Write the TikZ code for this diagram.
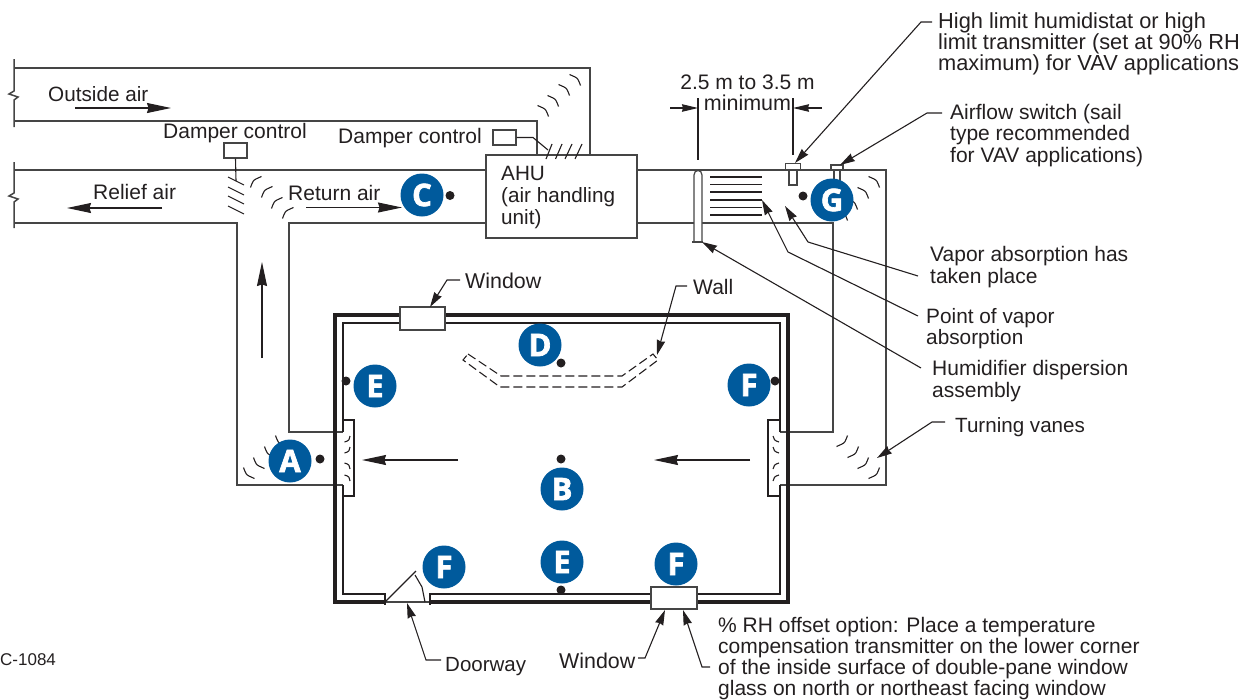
\documentclass[tikz,border=0pt]{standalone}
\usepackage{fontspec}
\setmainfont{Liberation Sans}
\newfontfamily\badgefont[BoldFeatures={FakeBold=2.2}]{Open Sans}
\usetikzlibrary{arrows.meta}
\definecolor{ink}{HTML}{231F20}
\definecolor{duct}{HTML}{454545}
\definecolor{badgeblue}{HTML}{005A9C}
\tikzset{
 ductline/.style={draw=duct,line width=1.5pt},
 fineline/.style={draw=ink,line width=1.1pt},
 wallthick/.style={draw=ink,line width=3.8pt},
 vaneline/.style={draw=ink,line width=1.1pt},
 boxshape/.style={draw=duct,line width=1.5pt,fill=white},
 flowarrow/.style={draw=ink,line width=1.1pt,-{Stealth[length=24pt,width=10pt,inset=1.5pt]}},
 leader/.style={draw=ink,line width=1.1pt,-{Stealth[length=15pt,width=8.5pt,inset=1pt]}},
 lbl/.style={text=ink,inner sep=0pt,anchor=base west,font=\fontsize{21}{22}\selectfont},
 lblm/.style={text=ink,inner sep=0pt,anchor=west,align=left,font=\fontsize{21}{21.3}\selectfont},
 badge/.style={circle,fill=badgeblue,text=white,minimum size=43pt,inner sep=0pt,font=\badgefont\bfseries\fontsize{31}{31}\selectfont},
 sensordot/.style={circle,fill=ink,minimum size=9pt,inner sep=0pt},
}
\newcommand{\vanemark}[4]{\draw[vaneline,shift={(#1,#2)},xscale=#3,yscale=#4] (-5.5,5.5) .. controls (-1,3.5) and (2,2.5) .. (3,0.5) .. controls (4,-1) and (4.5,-3) .. (5.5,-5.5);}
\begin{document}
\begin{tikzpicture}[x=1pt,y=-1pt]
\useasboundingbox (0,0) rectangle (1255,699);
% break lines
\draw[ductline] (14,59)--(14,91)--(9,94)--(18,97)--(14,100)--(14,127);
\draw[ductline] (14,162)--(14,193)--(9,196)--(18,199)--(14,202)--(14,228);
% ducts
\draw[ductline] (14,68)--(590,68)--(590,155);
\draw[ductline] (14,121)--(537,121)--(537,155);
\draw[ductline] (14,170)--(486,170);
\draw[ductline] (14,223)--(237,223)--(237,485)--(343,485);
\draw[ductline] (486,223)--(289,223)--(289,432)--(343,432);
\draw[ductline] (637,170)--(886,170)--(886,485)--(780,485);
\draw[ductline] (637,223)--(833,223)--(833,432)--(780,432);
% room
\draw[wallthick] (385,602)--(335,602)--(335,315)--(788,315)--(788,602)--(430,602);
\draw[fineline] (385,594)--(343,594)--(343,485);
\draw[fineline] (343,432)--(343,323)--(780,323)--(780,432);
\draw[fineline] (780,485)--(780,594)--(430,594);
% return and supply grilles
\draw[fineline] (343,432)--(343,420)--(354,420);
\draw[fineline] (343,485)--(343,496)--(354,496);
\draw[draw=ink,line width=2.6pt] (354,419)--(354,497);
\draw[fineline] (780,432)--(780,420)--(768,420);
\draw[fineline] (780,485)--(780,496)--(768,496);
\draw[draw=ink,line width=2.6pt] (768,419)--(768,497);
\foreach \yy in {439,450}{
 \draw[vaneline] (344.5,\yy+3) .. controls (349,\yy+2) and (350,\yy) .. (350,\yy-3);
 \draw[vaneline] (773,\yy-3) .. controls (773,\yy) and (775,\yy+2) .. (779,\yy+3);
}
\foreach \yy in {466,478}{
 \draw[vaneline] (344.5,\yy-3) .. controls (349,\yy-2) and (350,\yy) .. (350,\yy+3);
 \draw[vaneline] (773,\yy+3) .. controls (773,\yy) and (775,\yy-2) .. (779,\yy-3);
}
% door
\draw[ductline,line width=1.1pt] (385,602)--(430,602);
\draw[fineline] (385,593)--(385,605);
\draw[fineline] (430,593)--(430,605);
\draw[fineline] (385,602)--(416,571);
\draw[fineline] (415,575)--(422,587)--(425,602);
% windows
\node[boxshape,minimum width=45pt,minimum height=23pt,inner sep=0pt] (wintop) at (422.5,318.5) {};
\node[boxshape,minimum width=46pt,minimum height=22pt,inner sep=0pt] (winbot) at (674,598) {};
% dashed wall
\draw[fineline,dash pattern=on 9pt off 4pt] (468,354)--(501,376)--(622,376)--(653,354)--(658,360)--(622,387)--(500,387)--(463,360)--cycle;
% AHU
\node[boxshape,minimum width=151pt,minimum height=83pt,inner sep=0pt] (ahu) at (561.5,196.5) {};
\node[lblm,font=\fontsize{20.7}{21.8}\selectfont] (ahutext) at (501,197.5) {AHU\\(air handling\\unit)};
% dampers
\node[boxshape,line width=1.2pt,minimum width=23pt,minimum height=15pt,inner sep=0pt] (dampA) at (235.5,150.5) {};
\node[boxshape,line width=1.2pt,minimum width=23pt,minimum height=15pt,inner sep=0pt] (dampB) at (504.5,137.5) {};
\coordinate (stemA) at (236,181);
\draw[fineline] (dampA.south) -- (stemA);
\foreach \yy in {177,187,196,206}{\draw[fineline] (228,\yy)--(244,\yy+8);}
\coordinate (kinkB) at (533,137.5);
\coordinate (stemB) at (548,150);
\draw[fineline] (dampB.east) -- (kinkB) -- (stemB);
\draw[fineline] (546,159)--(552,144);
\draw[fineline] (555.5,159)--(562,144);
\draw[fineline] (565,159)--(572,144);
\draw[fineline] (575,159)--(582,144);
% turning vanes
\vanemark{543}{111}{1}{-1}\vanemark{553}{101}{1}{-1}\vanemark{564}{90}{1}{-1}\vanemark{575}{80}{1}{-1}
\vanemark{256}{182}{-1}{-1}\vanemark{267}{192}{-1}{-1}\vanemark{277}{203}{-1}{-1}\vanemark{288}{213}{-1}{-1}
\vanemark{249}{473}{-1}{1}\vanemark{259}{463}{-1}{1}\vanemark{270}{452}{-1}{1}\vanemark{281}{441}{-1}{1}
\vanemark{842}{441}{1}{1}\vanemark{853}{452}{1}{1}\vanemark{863}{463}{1}{1}\vanemark{874}{473}{1}{1}
\vanemark{874}{182}{1}{-1}\vanemark{863}{193}{1}{-1}\vanemark{852}{204}{1}{-1}\vanemark{842}{215}{1}{-1}
% humidifier
\draw[boxshape,line width=1.2pt] (694,241)--(694,175) .. controls (694,169) and (702,169) .. (702,175)--(702,241);
\draw[draw=duct,line width=2.2pt] (692,242)--(703,242);
\foreach \yy in {177,184.5,192,200,207.5,215}{\draw[fineline] (710,\yy)--(762,\yy);}
% sensors
\node[boxshape,line width=1.2pt,minimum width=8pt,minimum height=15pt,inner sep=0pt] (humbody) at (793,177.5) {};
\node[boxshape,line width=1.2pt,minimum width=15pt,minimum height=5.5pt,inner sep=0pt] (humcap) at (793,166.5) {};
\node[boxshape,line width=1.2pt,minimum width=6pt,minimum height=15pt,inner sep=0pt] (sailbody) at (837,177.5) {};
\node[boxshape,line width=1.2pt,minimum width=12pt,minimum height=5pt,inner sep=0pt] (sailcap) at (837,167.5) {};
% dimension
\draw[fineline] (698,98)--(698,160);
\draw[fineline] (793,98)--(793,155);
\coordinate (dimL) at (670,108);
\coordinate (dimLt) at (698,108);
\coordinate (dimR) at (822,108);
\coordinate (dimRt) at (793,108);
\draw[leader,-{Stealth[length=16pt,width=7.5pt,inset=1pt]}] (dimL)--(dimLt);
\draw[leader,-{Stealth[length=16pt,width=7.5pt,inset=1pt]}] (dimR)--(dimRt);
% flow arrows
\coordinate (f1a) at (75,108); \coordinate (f1b) at (171,108);
\coordinate (f2a) at (162,208); \coordinate (f2b) at (67,208);
\coordinate (f3a) at (306,207.5); \coordinate (f3b) at (402,207.5);
\coordinate (f4a) at (262,358); \coordinate (f4b) at (262,262);
\coordinate (f5a) at (458,460); \coordinate (f5b) at (362,460);
\coordinate (f6a) at (750,460); \coordinate (f6b) at (654,460);
\draw[flowarrow] (f1a)--(f1b);
\draw[flowarrow] (f2a)--(f2b);
\draw[flowarrow] (f3a)--(f3b);
\draw[flowarrow] (f4a)--(f4b);
\draw[flowarrow] (f5a)--(f5b);
\draw[flowarrow] (f6a)--(f6b);
% dots
\node[sensordot] (dotA) at (320,459) {};
\node[sensordot] (dotC) at (450,195.5) {};
\node[sensordot] (dotD) at (561,363) {};
\node[sensordot] (dotE1) at (346,381) {};
\node[sensordot] (dotF1) at (775,381) {};
\node[sensordot] (dotB) at (561,459) {};
\node[sensordot] (dotE2) at (561,590) {};
\node[sensordot] (dotG) at (803,196) {};
% badges
\node[badge] (bA) at (290,461) {A};
\node[badge] (bC) at (422,195) {C};
\node[badge] (bD) at (540,345) {D};
\node[badge] (bE1) at (375,386) {E};
\node[badge] (bF1) at (749,385) {F};
\node[badge] (bB) at (562,489) {B};
\node[badge] (bE2) at (562,562) {E};
\node[badge] (bF2) at (444,567) {F};
\node[badge] (bF3) at (676,564) {F};
\node[badge] (bG) at (832,200) {G};
% plain labels
\node[lbl,font=\fontsize{20.7}{22}\selectfont] (tOut) at (48,101) {Outside air};
\node[lbl] (tRel) at (93,199) {Relief air};
\node[lbl] (tRet) at (288,200) {Return air};
\node[lbl] (tDc1) at (163,138) {Damper control};
\node[lbl] (tDc2) at (338,143) {Damper control};
\node[lbl,font=\fontsize{21.4}{22}\selectfont] (tWin1) at (465,288) {Window};
\node[lbl] (tWall) at (693,294) {Wall};
\node[lbl,font=\fontsize{20.5}{22}\selectfont] (tDoor) at (445,671) {Doorway};
\node[lbl,font=\fontsize{21.4}{22}\selectfont] (tWin2) at (559,668) {Window};
\node[lbl,font=\fontsize{20.6}{22}\selectfont] (tTurn) at (955,432) {Turning vanes};
\node[lbl,anchor=base] (tDim1) at (747.5,89) {2.5 m to 3.5 m};
\node[lbl,anchor=base,font=\fontsize{21.5}{22}\selectfont] (tDim2) at (747.5,110) {minimum};
\node[lbl,font=\fontsize{17}{18}\selectfont] (tCode) at (0,665) {C-1084};
% multi-line labels
\node[lblm,font=\fontsize{21.8}{21}\selectfont] (tHigh) at (938,44) {High limit humidistat or high\\limit transmitter (set at 90\% RH\\maximum) for VAV applications};
\node[lblm] (tAir) at (950,135.5) {Airflow switch (sail\\type recommended\\for VAV applications)};
\node[lblm] (tVap) at (930,267) {Vapor absorption has\\taken place};
\node[lblm,font=\fontsize{20.8}{21.3}\selectfont] (tPoint) at (926,328.5) {Point of vapor\\absorption};
\node[lblm] (tHum) at (932,381) {Humidifier dispersion\\assembly};
\node[lblm,font=\fontsize{21}{21}\selectfont] (tRH) at (718,658.5) {\% RH offset option: Place a temperature\\compensation transmitter on the lower corner\\of the inside surface of double-pane window\\glass on north or northeast facing window};
% leaders
\coordinate (lHa) at (932,22); \coordinate (lHb) at (921,22); \coordinate (lHc) at (795,163);
\draw[leader] (lHa)--(lHb)--(lHc);
\coordinate (lAa) at (942,113); \coordinate (lAb) at (927,113); \coordinate (lAc) at (840,165);
\draw[leader] (lAa)--(lAb)--(lAc);
\coordinate (lVa) at (918,276); \coordinate (lVb) at (808,242); \coordinate (lVc) at (785,206);
\draw[leader] (lVa)--(lVb)--(lVc);
\coordinate (lPa) at (918,316); \coordinate (lPb) at (788,252); \coordinate (lPc) at (762,200);
\draw[leader] (lPa)--(lPb)--(lPc);
\coordinate (lUa) at (921,368); \coordinate (lUc) at (702,242);
\draw[leader] (lUa)--(lUc);
\coordinate (lTa) at (945,422); \coordinate (lTb) at (932,422); \coordinate (lTc) at (877,458);
\draw[leader] (lTa)--(lTb)--(lTc);
\coordinate (lW1a) at (460,280); \coordinate (lW1b) at (447,280); \coordinate (lW1c) at (430,307);
\draw[leader] (lW1a)--(lW1b)--(lW1c);
\coordinate (lWa) at (687,286); \coordinate (lWb) at (676,286); \coordinate (lWc) at (657,355);
\draw[leader] (lWa)--(lWb)--(lWc);
\coordinate (lDa) at (441,660); \coordinate (lDb) at (426,660); \coordinate (lDc) at (407,603);
\draw[leader] (lDa)--(lDb)--(lDc);
\coordinate (lW2a) at (638,658); \coordinate (lW2b) at (645,658); \coordinate (lW2c) at (665,610);
\draw[leader] (lW2a)--(lW2b)--(lW2c);
\coordinate (lRa) at (710,667); \coordinate (lRb) at (702,667); \coordinate (lRc) at (683,610);
\draw[leader] (lRa)--(lRb)--(lRc);
\end{tikzpicture}
\end{document}
